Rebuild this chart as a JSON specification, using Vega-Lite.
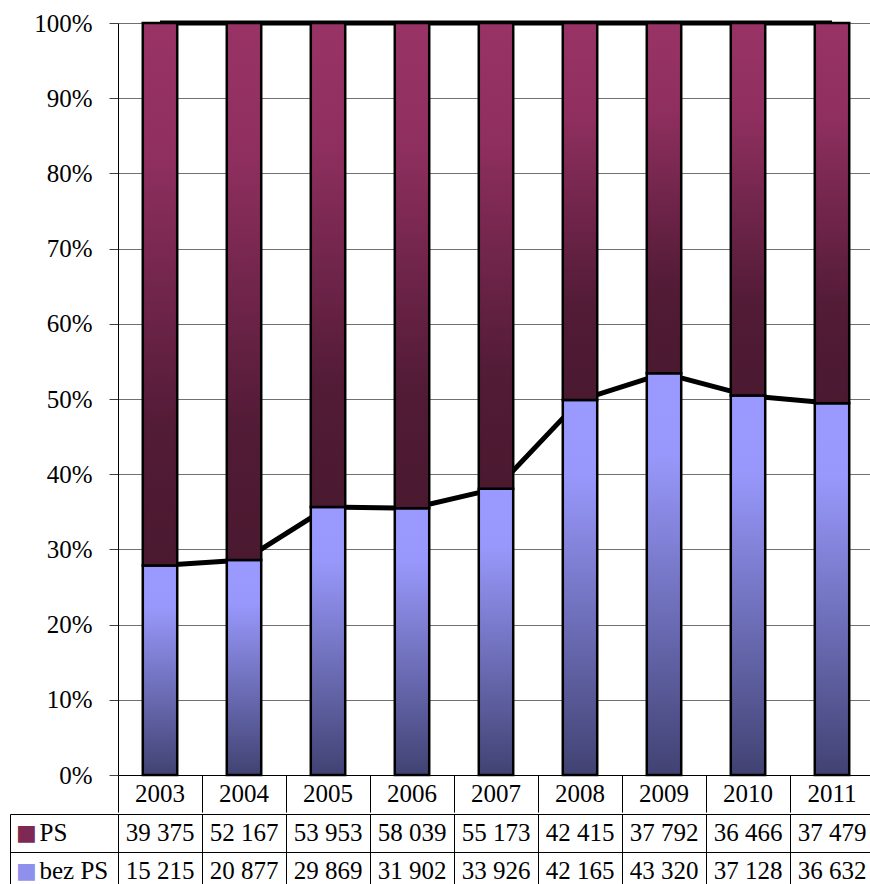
{
  "$schema": "https://vega.github.io/schema/vega-lite/v6.json",
  "padding": {"top": 11, "left": 9, "right": 0, "bottom": 0},
  "spacing": 0,
  "config": {
    "font": "Liberation Serif",
    "locale": {"number": {"decimal": ",", "thousands": " ", "grouping": [3], "currency": ["", ""]}},
    "axis": {"labelFont": "Liberation Serif", "labelColor": "black", "title": null}
  },
  "datasets": {
    "rows": [
      {"year": "2003", "series": "PS", "value": 39375},
      {"year": "2004", "series": "PS", "value": 52167},
      {"year": "2005", "series": "PS", "value": 53953},
      {"year": "2006", "series": "PS", "value": 58039},
      {"year": "2007", "series": "PS", "value": 55173},
      {"year": "2008", "series": "PS", "value": 42415},
      {"year": "2009", "series": "PS", "value": 37792},
      {"year": "2010", "series": "PS", "value": 36466},
      {"year": "2011", "series": "PS", "value": 37479},
      {"year": "2003", "series": "bez PS", "value": 15215},
      {"year": "2004", "series": "bez PS", "value": 20877},
      {"year": "2005", "series": "bez PS", "value": 29869},
      {"year": "2006", "series": "bez PS", "value": 31902},
      {"year": "2007", "series": "bez PS", "value": 33926},
      {"year": "2008", "series": "bez PS", "value": 42165},
      {"year": "2009", "series": "bez PS", "value": 43320},
      {"year": "2010", "series": "bez PS", "value": 37128},
      {"year": "2011", "series": "bez PS", "value": 36632}
    ]
  },
  "vconcat": [
    {
      "width": 756,
      "height": 752,
      "view": {"stroke": null},
      "data": {"name": "rows"},
      "transform": [
        {"stack": "value", "groupby": ["year"], "sort": [{"field": "series", "order": "descending"}], "offset": "normalize", "as": ["y0", "y1"]}
      ],
      "encoding": {
        "x": {
          "field": "year", "type": "nominal", "sort": null,
          "scale": {"type": "band", "paddingInner": 0, "paddingOuter": 0},
          "axis": {"orient": "bottom", "bandPosition": 0, "tickSize": 37, "tickColor": "black", "domainColor": "black", "labelFontSize": 25, "labelPadding": -18.5, "labelBaseline": "middle", "labelAngle": 0, "labelOverlap": false}
        },
        "y": {
          "field": "y1", "type": "quantitative",
          "scale": {"domain": [0, 1]},
          "axis": {"values": [0, 0.1, 0.2, 0.3, 0.4, 0.5, 0.6, 0.7, 0.8, 0.9, 1], "format": ".0%", "grid": true, "gridColor": "#707070", "tickSize": 9, "tickColor": "#404040", "domainColor": "black", "labelFontSize": 25, "labelPadding": 17, "labelBaseline": "middle"}
        }
      },
      "layer": [
        {
          "mark": {"type": "line", "color": "black", "strokeWidth": 5, "strokeJoin": "round"},
          "encoding": {"detail": {"field": "series"}}
        },
        {
          "transform": [{"filter": "datum.series === 'bez PS'"}],
          "mark": {"type": "bar", "width": {"band": 0.41}, "stroke": "black", "strokeWidth": 2.5,
            "color": {"gradient": "linear", "x1": 0, "y1": 0, "x2": 0, "y2": 1,
              "stops": [{"offset": 0, "color": "#9999ff"}, {"offset": 0.2, "color": "#9898fc"}, {"offset": 1, "color": "#414272"}]}},
          "encoding": {"y2": {"field": "y0"}}
        },
        {
          "transform": [{"filter": "datum.series === 'PS'"}],
          "mark": {"type": "bar", "width": {"band": 0.41}, "stroke": "black", "strokeWidth": 2.5,
            "color": {"gradient": "linear", "x1": 0, "y1": 0, "x2": 0, "y2": 1,
              "stops": [{"offset": 0, "color": "#993366"}, {"offset": 0.25, "color": "#8f2f5f"}, {"offset": 0.75, "color": "#521b36"}, {"offset": 1, "color": "#4a1930"}]}},
          "encoding": {"y2": {"field": "y0"}}
        }
      ]
    },
    {
      "width": 756,
      "height": 76,
      "view": {"stroke": "black"},
      "data": {"name": "rows"},
      "resolve": {"scale": {"y": "independent"}, "axis": {"y": "independent"}},
      "encoding": {
        "x": {
          "field": "year", "type": "nominal", "sort": null,
          "scale": {"type": "band", "paddingInner": 0, "paddingOuter": 0},
          "axis": {"orient": "top", "bandPosition": 0, "labels": false, "ticks": false, "domain": false, "grid": true, "gridColor": "black", "gridOpacity": 1}
        }
      },
      "layer": [
        {
          "mark": {"type": "text", "opacity": 0},
          "encoding": {
            "y": {"field": "series", "type": "nominal", "scale": {"type": "band", "domain": ["PS", "bez PS"], "paddingInner": 0, "paddingOuter": 0},
              "axis": {"orient": "left", "offset": 108, "domain": true, "domainColor": "black", "ticks": false, "grid": false, "labelExpr": "'■'", "labelFont": "DejaVu Sans", "labelFontSize": 22, "labelAlign": "center", "labelBaseline": "middle", "labelPadding": -16,
                "labelColor": {"condition": {"test": "datum.value === 'PS'", "value": "#7d2953"}, "value": "#8f8fee"}}},
            "text": {"value": ""}
          }
        },
        {
          "mark": {"type": "text", "font": "Liberation Serif", "fontSize": 25, "align": "center", "baseline": "middle", "color": "black"},
          "encoding": {
            "y": {"field": "series", "type": "nominal", "scale": {"type": "band", "domain": ["PS", "bez PS"], "paddingInner": 0, "paddingOuter": 0},
              "axis": {"orient": "left", "bandPosition": 0, "tickSize": 108, "tickColor": "black", "domain": false, "grid": true, "gridColor": "black", "gridOpacity": 1, "labelAlign": "left", "labelBaseline": "middle", "labelPadding": -29, "labelFontSize": 25}},
            "text": {"field": "value", "type": "quantitative", "format": ",d"}
          }
        }
      ]
    }
  ]
}
